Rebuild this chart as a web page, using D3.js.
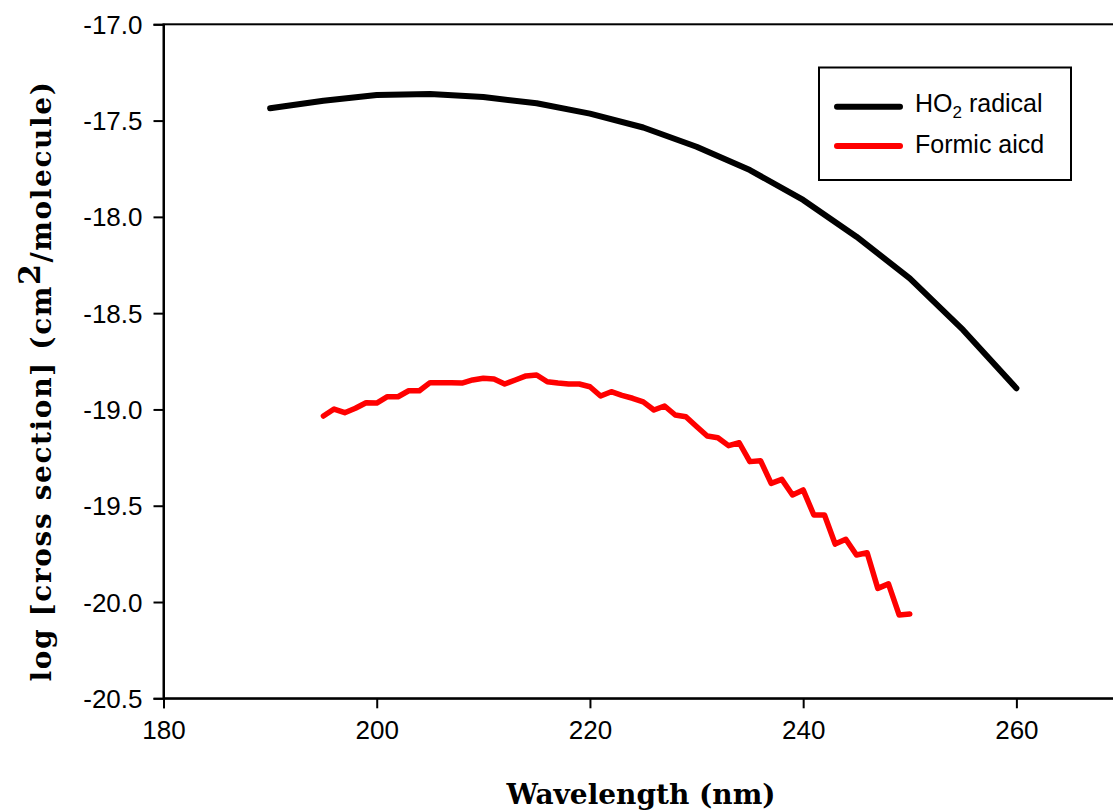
<!DOCTYPE html>
<html>
<head>
<meta charset="utf-8">
<script src="https://cdn.jsdelivr.net/npm/d3@7"></script>
<style>
  html, body { margin: 0; padding: 0; background: #fff; }
  svg { display: block; }
</style>
</head>
<body>
<svg id="chart" width="1113" height="811"></svg>
<script>
// ---- data ----
const xTicks = [180, 200, 220, 240, 260];
const yTicks = [-17.0, -17.5, -18.0, -18.5, -19.0, -19.5, -20.0, -20.5];

const ho2Wavelengths = [190, 195, 200, 205, 210, 215, 220, 225, 230, 235, 240, 245, 250, 255, 260];
const ho2Values = [-17.436, -17.397, -17.367, -17.362, -17.378, -17.410, -17.464, -17.536,
                   -17.636, -17.757, -17.912, -18.103, -18.319, -18.587, -18.890];

const formicWavelengths = [195, 196, 197, 198, 199, 200, 201, 202, 203, 204, 205, 206, 207, 208,
  209, 210, 211, 212, 213, 214, 215, 216, 217, 218, 219, 220, 221, 222, 223, 224, 225, 226, 227,
  228, 229, 230, 231, 232, 233, 234, 235, 236, 237, 238, 239, 240, 241, 242, 243, 244, 245, 246,
  247, 248, 249, 250];
const formicValues = [-19.034, -18.998, -19.017, -18.994, -18.965, -18.967, -18.934, -18.934,
  -18.903, -18.903, -18.861, -18.861, -18.861, -18.863, -18.847, -18.838, -18.842, -18.868,
  -18.847, -18.826, -18.821, -18.856, -18.863, -18.868, -18.868, -18.882, -18.930, -18.908,
  -18.927, -18.942, -18.961, -19.003, -18.982, -19.029, -19.038, -19.089, -19.138, -19.147,
  -19.188, -19.173, -19.271, -19.266, -19.384, -19.363, -19.444, -19.418, -19.548, -19.548,
  -19.699, -19.674, -19.756, -19.744, -19.929, -19.906, -20.067, -20.062];

const seriesNames = ["HO\u2082 radical", "Formic aicd"];
const seriesColors = ["#000000", "#ff0000"];

// ---- layout ----
const svg = d3.select("#chart");
const plotLeft = 163.5, plotRight = 1123, plotTop = 24.3, plotBottom = 698.3;

const x = d3.scaleLinear().domain([180, 270]).range([plotLeft, plotRight]);
const y = d3.scaleLinear().domain([-20.5, -17.0]).range([plotBottom, plotTop]);

// frame (top border; right side lies beyond the picture)
svg.append("rect")
  .attr("x", plotLeft).attr("y", plotTop)
  .attr("width", plotRight - plotLeft).attr("height", plotBottom - plotTop)
  .attr("fill", "none").attr("stroke", "#000").attr("stroke-width", 2);

const tickFont = "'Liberation Sans', Arial, sans-serif";

const xAxis = svg.append("g")
  .attr("transform", `translate(0,${plotBottom})`)
  .call(d3.axisBottom(x).tickValues(xTicks).tickSize(10).tickPadding(12).tickFormat(d => String(d)));
const yAxis = svg.append("g")
  .attr("transform", `translate(${plotLeft},0)`)
  .call(d3.axisLeft(y).tickValues(yTicks).tickSize(10).tickPadding(11).tickFormat(d => d.toFixed(1)));

[xAxis, yAxis].forEach(g => {
  g.select(".domain").attr("stroke-width", 2);
  g.selectAll(".tick line").attr("stroke-width", 2);
  g.selectAll(".tick text")
    .attr("font-family", tickFont)
    .attr("font-size", 26)
    .attr("fill", "#000");
});
yAxis.selectAll(".tick text").attr("dy", "0.35em");

// ---- lines ----
const line = d3.line().x(d => x(d[0])).y(d => y(d[1]));

const ho2Data = ho2Wavelengths.map((w, i) => [w, ho2Values[i]]);
const formicData = formicWavelengths.map((w, i) => [w, formicValues[i]]);

svg.append("path")
  .datum(ho2Data)
  .attr("d", line)
  .attr("fill", "none")
  .attr("stroke", seriesColors[0])
  .attr("stroke-width", 6)
  .attr("stroke-linejoin", "round")
  .attr("stroke-linecap", "round");

svg.append("path")
  .datum(formicData)
  .attr("d", line)
  .attr("fill", "none")
  .attr("stroke", seriesColors[1])
  .attr("stroke-width", 5.5)
  .attr("stroke-linejoin", "round")
  .attr("stroke-linecap", "round");

// ---- legend ----
const lg = svg.append("g");
lg.append("rect")
  .attr("x", 819).attr("y", 67.5).attr("width", 252).attr("height", 112.5)
  .attr("fill", "#fff").attr("stroke", "#000").attr("stroke-width", 2);

const legendRows = [106.7, 146];
legendRows.forEach((ly, i) => {
  lg.append("line")
    .attr("x1", 837).attr("x2", 900).attr("y1", ly).attr("y2", ly)
    .attr("stroke", seriesColors[i]).attr("stroke-width", 6)
    .attr("stroke-linecap", "round");
});

const t1 = lg.append("text")
  .attr("x", 915).attr("y", 111.5)
  .attr("font-family", tickFont).attr("font-size", 25).attr("fill", "#000");
t1.append("tspan").text("HO");
t1.append("tspan").attr("font-size", 17).attr("dy", 6).text("2");
t1.append("tspan").attr("dy", -6).text(" radical");

lg.append("text")
  .attr("x", 915).attr("y", 153)
  .attr("font-family", tickFont).attr("font-size", 25).attr("fill", "#000")
  .text(seriesNames[1]);

// ---- axis titles ----
const titleFont = "'DejaVu Serif', 'Liberation Serif', serif";

svg.append("text")
  .attr("x", 641).attr("y", 804)
  .attr("text-anchor", "middle")
  .attr("font-family", titleFont).attr("font-weight", "bold").attr("font-size", 28)
  .attr("fill", "#000")
  .text("Wavelength (nm)");

const yt = svg.append("text")
  .attr("transform", `translate(51,381) rotate(-90)`)
  .attr("text-anchor", "middle")
  .attr("font-family", titleFont).attr("font-weight", "bold").attr("font-size", 28)
  .attr("letter-spacing", 1.6)
  .attr("fill", "#000");
yt.append("tspan").text("log [cross section] (cm");
yt.append("tspan").attr("dy", -11).attr("font-size", 30).text("2");
yt.append("tspan").attr("dy", 11).text("/molecule)");
</script>
</body>
</html>
